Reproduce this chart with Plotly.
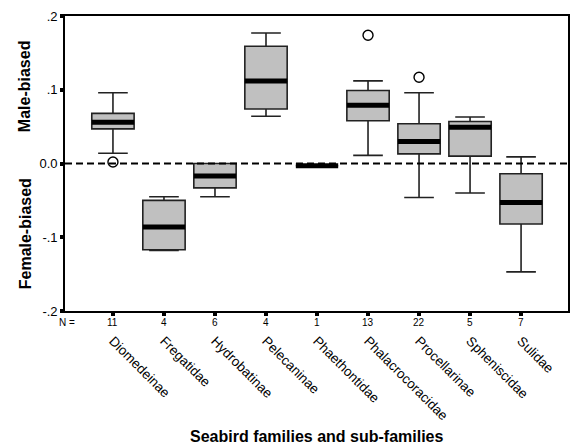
import plotly.graph_objects as go

# Sex-ratio bias by seabird group (box statistics)
families = ["Diomedeinae", "Fregatidae", "Hydrobatinae", "Pelecaninae", "Phaethontidae",
            "Phalacrocoracidae", "Procellarinae", "Spheniscidae", "Sulidae"]
n_species = [11, 4, 6, 4, 1, 13, 22, 5, 7]
upper_whisker = [0.096, -0.045, 0.0, 0.177, -0.003, 0.112, 0.096, 0.063, 0.009]
q3_vals = [0.068, -0.050, 0.0, 0.159, -0.003, 0.099, 0.054, 0.057, -0.014]
medians = [0.056, -0.086, -0.017, 0.112, -0.003, 0.079, 0.030, 0.049, -0.053]
q1_vals = [0.047, -0.117, -0.033, 0.074, -0.003, 0.058, 0.013, 0.010, -0.082]
lower_whisker = [0.014, -0.118, -0.045, 0.064, -0.003, 0.011, -0.046, -0.040, -0.147]
outlier_family = [0, 5, 6]
outlier_values = [0.002, 0.174, 0.117]

y_ticks = [-0.2, -0.1, 0.0, 0.1, 0.2]
y_ticktext = ["-.2", "-.1", "0.0", ".1", ".2"]

BOX_W = 0.83
FONT = "Liberation Sans, Arial, sans-serif"
xs = list(range(len(families)))

fig = go.Figure()
fig.add_trace(go.Box(
    x=xs, q1=q1_vals, median=medians, q3=q3_vals,
    lowerfence=lower_whisker, upperfence=upper_whisker,
    width=BOX_W, whiskerwidth=0.7,
    fillcolor="#c0c0c0", line=dict(color="#222222", width=1.6),
    boxpoints=False, hoverinfo="skip", showlegend=False,
))

# thick median bars
mx, my = [], []
for i, m in zip(xs, medians):
    mx += [i - BOX_W / 2, i + BOX_W / 2, None]
    my += [m, m, None]
fig.add_trace(go.Scatter(x=mx, y=my, mode="lines",
                         line=dict(color="black", width=5),
                         hoverinfo="skip", showlegend=False))

# outliers
fig.add_trace(go.Scatter(
    x=outlier_family, y=outlier_values, mode="markers",
    marker=dict(symbol="circle-open", size=10, color="black", line=dict(width=1.4)),
    hoverinfo="skip", showlegend=False))

# zero reference line
fig.add_shape(type="line", xref="paper", x0=0, x1=1, yref="y", y0=0, y1=0,
              line=dict(color="black", width=2.2, dash="7px,4px"))

# sample sizes beneath the axis
fig.add_annotation(text="N =", xref="paper", x=0.003, yref="paper", y=-0.04,
                   showarrow=False, xanchor="center", yanchor="middle",
                   font=dict(family=FONT, size=10, color="black"))
for i, n in zip(xs, n_species):
    fig.add_annotation(text=str(n), x=i, xref="x", yref="paper", y=-0.04,
                       showarrow=False, xanchor="center", yanchor="middle",
                       font=dict(family=FONT, size=10, color="black"))

fig.add_annotation(text="<b>Male-biased</b>", xref="paper", x=-0.079, yref="paper", y=0.763,
                   textangle=-90, showarrow=False, xanchor="center", yanchor="middle",
                   font=dict(family=FONT, size=16, color="black"))
fig.add_annotation(text="<b>Female-biased</b>", xref="paper", x=-0.079, yref="paper", y=0.261,
                   textangle=-90, showarrow=False, xanchor="center", yanchor="middle",
                   font=dict(family=FONT, size=16, color="black"))
fig.add_annotation(text="<b>Seabird families and sub-families</b>", xref="paper", x=0.5,
                   yref="paper", y=-0.425, showarrow=False, xanchor="center", yanchor="middle",
                   font=dict(family=FONT, size=16, color="black"))

fig.update_layout(
    width=572, height=444,
    margin=dict(l=65, r=2, t=16, b=133),
    paper_bgcolor="white", plot_bgcolor="white",
    font=dict(family=FONT, color="black"),
    xaxis=dict(range=[-0.94, 8.92], tickmode="array", tickvals=xs, ticktext=families,
               tickangle=45, ticks="outside", ticklen=3, tickwidth=4, tickcolor="black",
               ticklabelstandoff=12, tickfont=dict(size=13.5, color="black"),
               showline=True, linecolor="black", linewidth=1.6, mirror=True,
               showgrid=False, zeroline=False),
    yaxis=dict(range=[-0.2, 0.2], tickmode="array", tickvals=y_ticks, ticktext=y_ticktext,
               ticks="outside", ticklen=3, tickwidth=4, tickcolor="black",
               tickfont=dict(size=13, color="black"),
               showline=True, linecolor="black", linewidth=1.6, mirror=True,
               showgrid=False, zeroline=False),
)

fig.write_html("out.html")
